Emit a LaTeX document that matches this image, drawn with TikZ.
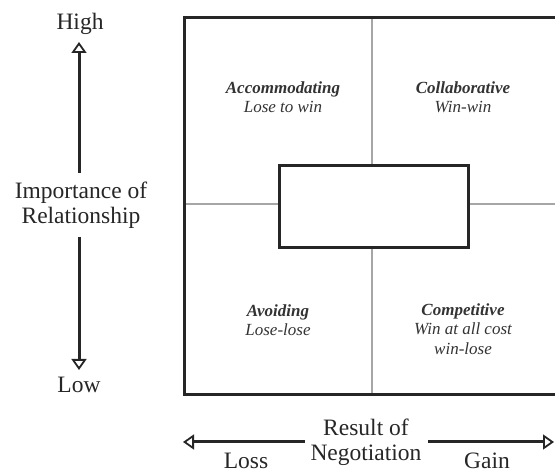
\documentclass[tikz,border=0pt]{standalone}
\usepackage{fontspec}
\setmainfont{Liberation Serif}
\usetikzlibrary{arrows.meta}
\begin{document}
\begin{tikzpicture}[x=1pt,y=-1pt,
  axislabel/.style={font=\fontsize{23.5}{25}\selectfont, align=center, inner sep=0pt, text=black!85},
  quad/.style={font=\fontsize{17}{19.5}\selectfont\itshape, align=center, inner sep=0pt, text=black!80},
  frame/.style={line width=3pt, draw=black!85},
  divider/.style={line width=1.4pt, draw=black!35},
  axis/.style={line width=3pt, draw=black!85, -{Triangle[open, length=11pt, width=15pt, line width=1.8pt]}}]
\useasboundingbox (0,0) rectangle (555,473);
\clip (0,0) rectangle (555,473);
% quadrant frame
\draw[divider] (372,18) -- (372,395);
\draw[divider] (184,204) -- (562,204);
\draw[frame] (184,18) rectangle (562,395);
\node[draw=black!85, line width=3pt, fill=white, minimum width=189pt, minimum height=82pt, inner sep=0pt] (center) at (373.5,207) {};
% quadrant labels
\node[quad] (acc) at (283,97) {{\bfseries Accommodating}\\Lose to win};
\node[quad] (col) at (463,97) {{\bfseries Collaborative}\\Win-win};
\node[quad] (avo) at (278,320) {{\bfseries Avoiding}\\Lose-lose};
\node[quad] (com) at (463,329) {{\bfseries Competitive}\\Win at all cost\\win-lose};
% vertical axis
\node[axislabel] (high) at (80,24) {High};
\node[axislabel] (low) at (79,385) {Low};
\node[axislabel] (imp) at (81,205) {Importance of\\Relationship};
\coordinate (vtop) at (79,42);
\coordinate (vbot) at (79,370);
\draw[axis] (79,173) -- (vtop);
\draw[axis] (79,237) -- (vbot);
% horizontal axis
\node[axislabel] (res) at (366,442) {Result of\\Negotiation};
\node[axislabel] (loss) at (246,461) {Loss};
\node[axislabel] (gain) at (487,461) {Gain};
\coordinate (hleft) at (183,442);
\coordinate (hright) at (554,442);
\draw[axis] (305,442) -- (hleft);
\draw[axis] (428,442) -- (hright);
\end{tikzpicture}
\end{document}
